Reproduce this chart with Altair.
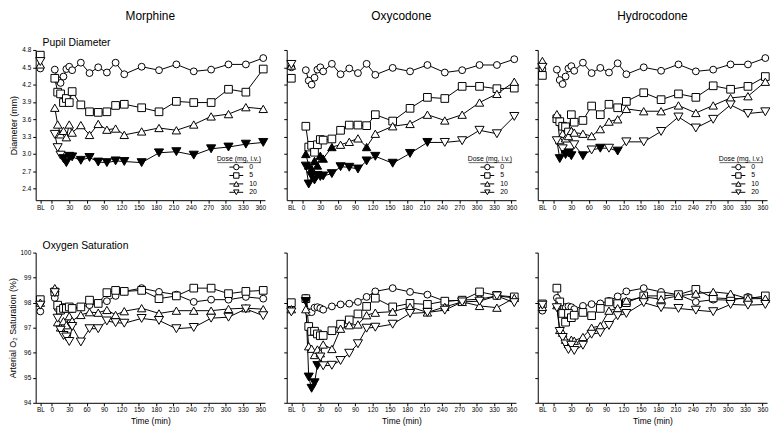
import altair as alt
import pandas as pd

FONT = "Liberation Sans"

# ---------------- data ----------------
times = [5, 10, 15, 20, 25, 30, 35, 50, 65, 80, 95, 110, 125, 155, 185, 215, 245, 275, 305, 335, 365]
bl_time = -20
doses = ["0", "5", "10", "20"]
drugs = ["Morphine", "Oxycodone", "Hydrocodone"]
measures = ["pupil", "o2"]
x_tick_values = [-20, 0, 30, 60, 90, 120, 150, 180, 210, 240, 270, 300, 330, 360]
pupil_ticks = [2.4, 2.7, 3.0, 3.3, 3.6, 3.9, 4.2, 4.5, 4.8]
o2_ticks = [94, 95, 96, 97, 98, 99, 100]

# Morphine - pupil diameter (mm)
m_pd_0 = [4.46, 4.28, 4.23, 4.34, 4.47, 4.51, 4.45, 4.58, 4.40, 4.50, 4.41, 4.58, 4.38, 4.51, 4.45, 4.55, 4.43, 4.46, 4.55, 4.55, 4.66]
m_pd_5 = [4.31, 4.07, 4.04, 3.89, 3.96, 3.89, 4.08, 3.85, 3.73, 3.72, 3.73, 3.84, 3.86, 3.80, 3.73, 3.91, 3.89, 3.89, 4.12, 4.07, 4.47]
m_pd_10 = [3.80, 3.51, 3.34, 3.40, 3.29, 3.51, 3.37, 3.50, 3.33, 3.52, 3.42, 3.44, 3.33, 3.39, 3.45, 3.41, 3.51, 3.65, 3.69, 3.81, 3.78]
m_pd_20 = [3.34, 3.11, 2.98, 2.92, 2.85, 2.96, 2.95, 2.89, 2.94, 2.86, 2.85, 2.88, 2.87, 2.85, 3.02, 3.04, 2.98, 3.09, 3.12, 3.17, 3.20]
m_pd_bl = [4.48, 4.71, 4.55, 4.60]

# Oxycodone - pupil diameter (mm)
o_pd_0 = [4.45, 4.27, 4.20, 4.32, 4.46, 4.50, 4.43, 4.56, 4.38, 4.48, 4.40, 4.56, 4.37, 4.49, 4.43, 4.54, 4.41, 4.45, 4.54, 4.54, 4.64]
o_pd_5 = [3.48, 3.12, 3.15, 3.03, 3.16, 3.25, 3.24, 3.26, 3.41, 3.50, 3.50, 3.49, 3.68, 3.57, 3.79, 3.98, 3.96, 4.17, 4.17, 4.13, 4.14]
o_pd_10 = [3.00, 2.80, 2.74, 2.88, 2.80, 2.97, 2.92, 3.12, 3.16, 3.21, 3.27, 3.12, 3.35, 3.48, 3.52, 3.68, 3.58, 3.68, 3.89, 4.04, 4.25]
o_pd_20 = [2.79, 2.48, 2.62, 2.55, 2.63, 2.61, 2.62, 2.66, 2.78, 2.77, 2.74, 2.88, 2.96, 2.84, 3.01, 3.20, 3.20, 3.23, 3.41, 3.35, 3.65]
o_pd_bl = [4.50, 4.31, 4.53, 4.55]

# Hydrocodone - pupil diameter (mm)
h_pd_0 = [4.46, 4.28, 4.21, 4.34, 4.48, 4.52, 4.44, 4.58, 4.40, 4.49, 4.41, 4.57, 4.38, 4.50, 4.44, 4.55, 4.43, 4.46, 4.55, 4.55, 4.66]
h_pd_5 = [3.61, 3.56, 3.48, 3.47, 3.38, 3.68, 3.55, 3.58, 3.83, 3.68, 3.86, 3.80, 3.91, 4.06, 3.94, 4.04, 3.98, 4.18, 4.12, 4.17, 4.34]
h_pd_10 = [3.69, 3.24, 3.35, 3.27, 3.31, 3.40, 3.37, 3.35, 3.31, 3.43, 3.56, 3.60, 3.78, 3.74, 3.74, 3.84, 3.71, 3.84, 3.97, 4.00, 4.25]
h_pd_20 = [3.23, 2.92, 3.09, 2.99, 3.02, 2.97, 3.16, 2.97, 3.07, 3.10, 3.10, 3.05, 3.21, 3.21, 3.39, 3.64, 3.45, 3.60, 3.85, 3.70, 3.73]
h_pd_bl = [4.47, 4.36, 4.61, 4.50]

# Morphine - arterial O2 saturation (%)
m_o2_0 = [98.19, 97.77, 97.75, 97.83, 97.80, 97.77, 97.74, 97.83, 97.90, 97.97, 98.06, 98.27, 98.45, 98.58, 98.43, 98.32, 98.03, 98.12, 98.12, 98.23, 98.16]
m_o2_5 = [98.43, 97.90, 97.70, 97.77, 97.77, 97.83, 97.77, 97.83, 98.10, 97.97, 98.40, 98.49, 98.45, 98.49, 98.16, 98.27, 98.58, 98.58, 98.36, 98.45, 98.49]
m_o2_10 = [98.58, 97.22, 97.01, 97.26, 97.10, 97.46, 97.27, 97.51, 97.62, 97.60, 97.71, 97.51, 97.66, 97.78, 97.57, 97.68, 97.68, 97.68, 97.75, 97.78, 97.74]
m_o2_20 = [98.40, 97.38, 96.90, 96.69, 96.63, 96.45, 97.05, 96.43, 96.96, 96.96, 97.27, 97.20, 97.18, 97.37, 97.29, 96.96, 97.01, 97.38, 97.42, 97.75, 97.48]
m_o2_bl = [97.65, 98.12, 98.00, 97.90]

# Oxycodone - arterial O2 saturation (%)
o_o2_0 = [98.19, 97.62, 97.62, 97.80, 97.82, 97.78, 97.72, 97.85, 97.93, 97.96, 98.03, 98.23, 98.45, 98.58, 98.43, 98.32, 98.06, 98.10, 98.14, 98.27, 98.19]
o_o2_5 = [98.16, 97.05, 96.85, 96.86, 96.75, 96.68, 96.69, 96.88, 97.14, 97.31, 97.55, 97.85, 98.18, 97.83, 97.97, 97.93, 98.06, 98.10, 98.43, 98.29, 98.23]
o_o2_10 = [97.74, 96.26, 96.16, 95.91, 96.13, 95.98, 96.33, 96.15, 96.96, 97.10, 97.13, 97.50, 97.60, 97.64, 97.83, 97.61, 97.83, 98.03, 97.87, 97.80, 98.19]
o_o2_20 = [98.05, 95.03, 94.58, 94.80, 95.49, 95.83, 95.48, 95.50, 95.69, 95.98, 96.36, 96.98, 97.02, 97.14, 97.57, 97.61, 97.70, 98.03, 98.06, 98.27, 98.00]
o_o2_bl = [97.87, 98.00, 97.74, 97.63]

# Hydrocodone - arterial O2 saturation (%)
h_o2_0 = [98.19, 97.80, 97.76, 97.83, 97.85, 97.82, 97.74, 97.87, 97.94, 97.97, 98.07, 98.25, 98.45, 98.58, 98.43, 98.32, 98.03, 98.12, 98.10, 98.23, 98.16]
h_o2_5 = [98.58, 98.03, 97.57, 97.22, 97.57, 97.40, 97.50, 97.61, 97.48, 97.77, 98.03, 97.96, 98.00, 98.27, 98.27, 98.32, 98.53, 98.19, 98.16, 98.16, 98.27]
h_o2_10 = [97.90, 96.91, 96.80, 96.52, 96.35, 96.52, 96.48, 96.63, 97.00, 97.07, 97.68, 97.78, 98.08, 98.23, 98.14, 98.27, 98.36, 98.43, 98.36, 98.16, 98.16]
h_o2_20 = [97.80, 96.85, 96.61, 96.35, 96.13, 96.30, 96.09, 96.30, 96.74, 96.80, 97.09, 97.48, 97.57, 98.00, 97.80, 97.77, 97.70, 97.64, 97.93, 97.90, 97.93]
h_o2_bl = [97.68, 97.95, 97.83, 97.90]

# indices (into times) of points drawn filled (significant vs placebo)
m_pd_filled_20 = list(range(3, 21))
o_pd_filled_10 = [0, 1, 2, 3, 4, 5, 6, 7, 11]
o_pd_filled_20 = list(range(0, 16))
h_pd_filled_20 = [1, 3, 4, 5, 7, 9, 11]
o_o2_filled_20 = [0, 1, 2, 3, 4]

panels_data = {
    ("Morphine", "pupil"): ([m_pd_0, m_pd_5, m_pd_10, m_pd_20], m_pd_bl, {"20": m_pd_filled_20}),
    ("Oxycodone", "pupil"): ([o_pd_0, o_pd_5, o_pd_10, o_pd_20], o_pd_bl, {"10": o_pd_filled_10, "20": o_pd_filled_20}),
    ("Hydrocodone", "pupil"): ([h_pd_0, h_pd_5, h_pd_10, h_pd_20], h_pd_bl, {"20": h_pd_filled_20}),
    ("Morphine", "o2"): ([m_o2_0, m_o2_5, m_o2_10, m_o2_20], m_o2_bl, {}),
    ("Oxycodone", "o2"): ([o_o2_0, o_o2_5, o_o2_10, o_o2_20], o_o2_bl, {"20": o_o2_filled_20}),
    ("Hydrocodone", "o2"): ([h_o2_0, h_o2_5, h_o2_10, h_o2_20], h_o2_bl, {}),
}

rows = []
for (drug, meas), (series, bl, filled) in panels_data.items():
    for dose, vals, blv in zip(doses, series, bl):
        rows.append(dict(drug=drug, meas=meas, dose=dose, t=bl_time, v=blv, kind="bl", fill="open"))
        fidx = filled.get(dose, [])
        for i, (t, v) in enumerate(zip(times, vals)):
            rows.append(dict(drug=drug, meas=meas, dose=dose, t=t, v=v, kind="post",
                             fill="filled" if i in fidx else "open"))
df = pd.DataFrame(rows)

# ---------------- chart ----------------
W = 232
HEIGHTS = {"pupil": 152, "o2": 152}
shape_scale = alt.Scale(domain=doses, range=["circle", "square", "triangle-up", "triangle-down"])
fill_scale = alt.Scale(domain=["open", "filled"], range=["white", "black"])


def panel(drug, meas, col, row):
    H = HEIGHTS[meas]
    d = df[(df.drug == drug) & (df.meas == meas)]
    post = d[d.kind == "post"]
    if meas == "pupil":
        ydom, yvals, fmt, ytitle = [2.2, 4.8], pupil_ticks, ".1f", "Diameter (mm)"
        sizes = [48, 85, 55, 55]
    else:
        ydom, yvals, fmt, ytitle = [94, 100], o2_ticks, "d", "Arterial O\u2082 Saturation (%)"
        sizes = [32, 52, 40, 40]
    xenc = alt.X("t:Q", scale=alt.Scale(domain=[-28, 368], nice=False, zero=False),
                 axis=alt.Axis(values=x_tick_values, labelExpr="datum.value < 0 ? 'BL' : datum.label",
                               title="Time (min)" if row == 1 else "", titleFontSize=8.5,
                               titlePadding=3, labelFontSize=6.5, tickSize=3, labelPadding=1,
                               labelFlush=False, labelOverlap=False))
    yaxis_kw = dict(values=yvals, format=fmt, labelFontSize=6.5, tickSize=3, labelPadding=2)
    if col == 0:
        yaxis_kw.update(title=ytitle, titleFontSize=9, titlePadding=3)
    else:
        yaxis_kw.update(title="", labels=False)
    yenc = alt.Y("v:Q", scale=alt.Scale(domain=ydom, nice=False, zero=False), axis=alt.Axis(**yaxis_kw))
    size_enc = alt.Size("dose:N", scale=alt.Scale(domain=doses, range=sizes), legend=None)

    lines = alt.Chart(post).mark_line(color="black", strokeWidth=1).encode(
        x=xenc, y=yenc, detail="dose:N", order="t:Q")
    pts = alt.Chart(d).mark_point(filled=True, stroke="black", strokeWidth=1, opacity=1).encode(
        x=xenc, y=yenc,
        shape=alt.Shape("dose:N", scale=shape_scale, legend=None),
        fill=alt.Fill("fill:N", scale=fill_scale, legend=None),
        size=size_enc)
    layers = [lines, pts]

    if row == 0:
        layers.append(alt.Chart(pd.DataFrame({"label": [drug]})).mark_text(
            font=FONT, fontSize=12, align="center", baseline="middle", color="black").encode(
            text="label:N", x=alt.value(W / 2), y=alt.value(-34)))
    if col == 0:
        sub = "Pupil Diameter" if meas == "pupil" else "Oxygen Saturation"
        layers.append(alt.Chart(pd.DataFrame({"label": [sub]})).mark_text(
            font=FONT, fontSize=10.5, align="left", baseline="middle", color="black").encode(
            text="label:N", x=alt.value(7), y=alt.value(-7)))
    if meas == "pupil":
        ty = 110
        layers.append(alt.Chart(pd.DataFrame({"label": ["Dose (mg, i.v.)"]})).mark_text(
            font=FONT, fontSize=7, align="right", baseline="middle", color="black").encode(
            text="label:N", x=alt.value(W - 4), y=alt.value(ty)))
        layers.append(alt.Chart(pd.DataFrame({"a": [0]})).mark_rule(color="black", strokeWidth=0.6).encode(
            x=alt.value(W - 48), x2=alt.value(W - 4), y=alt.value(ty + 4)))
        for i, dose in enumerate(doses):
            yy = ty + 8.5 + 8.5 * i
            ld = pd.DataFrame({"dose": [dose], "label": [dose]})
            layers.append(alt.Chart(ld).mark_rule(color="black", strokeWidth=1).encode(
                x=alt.value(W - 36), x2=alt.value(W - 22), y=alt.value(yy)))
            layers.append(alt.Chart(ld).mark_point(filled=True, fill="white", stroke="black",
                                                   strokeWidth=1, opacity=1).encode(
                x=alt.value(W - 29), y=alt.value(yy),
                shape=alt.Shape("dose:N", scale=shape_scale, legend=None),
                size=alt.value(30)))
            layers.append(alt.Chart(ld).mark_text(font=FONT, fontSize=7, align="left",
                                                  baseline="middle", color="black").encode(
                text="label:N", x=alt.value(W - 16), y=alt.value(yy)))

    return alt.layer(*layers).properties(width=W, height=H)


panels = []
for r, meas in enumerate(measures):
    for c, drug in enumerate(drugs):
        panels.append(panel(drug, meas, c, r))

chart = alt.concat(*panels, columns=3, spacing={"row": 30, "column": 13}).properties(
    padding={"left": 0, "top": 0, "right": 0, "bottom": 0}
).configure_view(stroke=None).configure_axis(
    grid=False, domainColor="black", tickColor="black", labelColor="black", titleColor="black",
    labelFont=FONT, titleFont=FONT, titleFontWeight="normal", domainWidth=1, tickWidth=1
)

chart.save("out.html", embed_options={"renderer": "svg", "actions": False})
